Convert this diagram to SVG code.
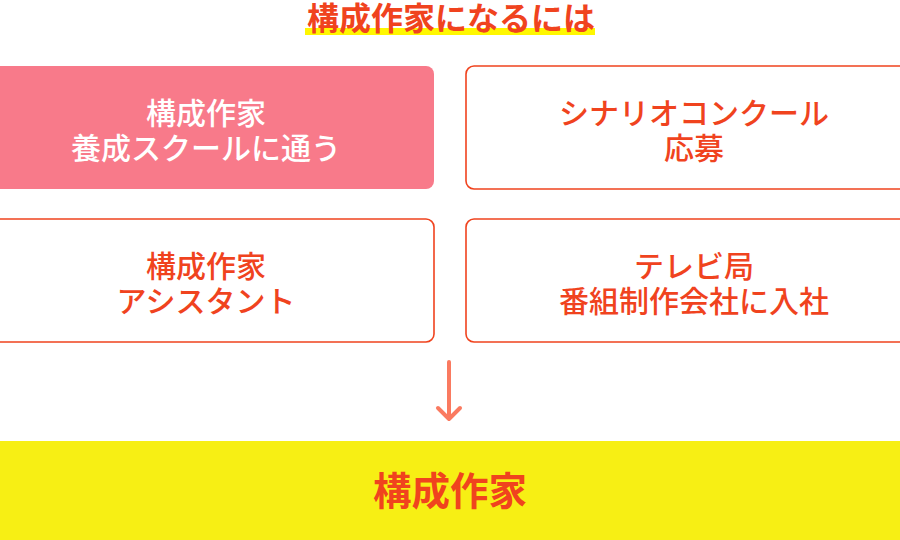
<svg xmlns="http://www.w3.org/2000/svg" width="900" height="540" viewBox="0 0 900 540">
<style>
text{font-family:"Noto Sans CJK JP","Noto Sans CJK SC",sans-serif;text-anchor:middle}
.lbl{font-size:30px;font-weight:500;fill:#f0431e}
.w{fill:#ffffff}
.box{fill:#ffffff;stroke:#f0431e;stroke-width:1.6}
.pink{fill:#f87a8a}
</style>
<rect width="900" height="540" fill="#ffffff"/>
<g id="title">
<rect x="305" y="28" width="290" height="7" fill="#fff700"/>
<text x="451" y="29.5" font-size="32" font-weight="bold" fill="#f0431e">構成作家になるには</text>
</g>
<g id="node-school">
<rect class="pink" x="-24" y="66" width="458" height="123" rx="8"/>
<text class="lbl w" x="206" y="124">構成作家</text>
<text class="lbl w" x="206" y="159">養成スクールに通う</text>
</g>
<g id="node-contest">
<rect class="box" x="466" y="66" width="458" height="123" rx="8"/>
<text class="lbl" x="694" y="124">シナリオコンクール</text>
<text class="lbl" x="694" y="159">応募</text>
</g>
<g id="node-assistant">
<rect class="box" x="-24" y="219" width="458" height="123" rx="8"/>
<text class="lbl" x="206" y="277">構成作家</text>
<text class="lbl" x="206" y="312">アシスタント</text>
</g>
<g id="node-tv">
<rect class="box" x="466" y="219" width="458" height="123" rx="8"/>
<text class="lbl" x="694" y="277">テレビ局</text>
<text class="lbl" x="694" y="312">番組制作会社に入社</text>
</g>
<g id="connectors">
<path d="M449 362 V419 M438 408 L449 419 L460 408" fill="none" stroke="#fa7a60" stroke-width="4" stroke-linecap="round" stroke-linejoin="round"/>
</g>
<g id="node-result">
<rect x="0" y="441" width="900" height="99" fill="#f7ef14"/>
<text x="450" y="505" font-size="38.5" font-weight="bold" fill="#f0431e">構成作家</text>
</g>
</svg>
